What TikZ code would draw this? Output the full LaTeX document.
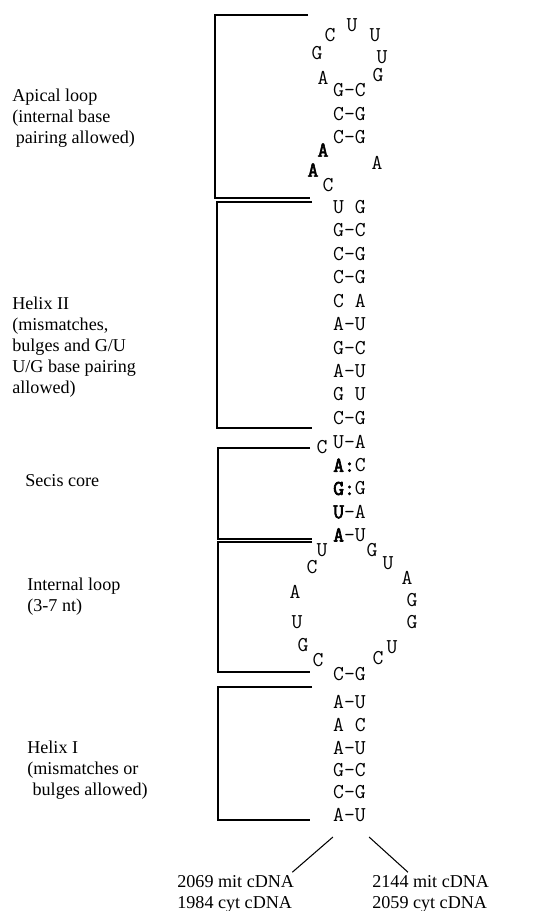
\documentclass[tikz,border=0pt]{standalone}
\usepackage{fontspec}
\setmainfont{Liberation Serif}
\newfontfamily\ntbf{Latin Modern Mono}[FakeBold=3]
\usepackage{tikz}
\usetikzlibrary{calc}
\tikzstyle{nt} = [font=\ttfamily\fontsize{12}{12}\selectfont, inner sep=0pt]
\tikzstyle{lbl} = [font=\fontsize{10.3}{11.9}\selectfont, align=left, anchor=west, inner sep=0pt]
\tikzstyle{segline} = [black, line width=0.6pt]

\begin{document}
\begin{tikzpicture}[scale=0.2]
        \useasboundingbox (0,0) rectangle (54.3,-91.1);
        % apical loop
        \node[nt] (a1) at (35.2,-2.5) {U};
        \node[nt] (a2) at (33.0,-3.5) {C};
        \node[nt] (a3) at (37.5,-3.5) {U};
        \node[nt] (a4) at (31.7,-5.3) {G};
        \node[nt] (a5) at (38.2,-5.7) {U};
        \node[nt] (a6) at (32.3,-7.8) {A};
        \node[nt] (a7) at (37.8,-7.5) {G};
        \node[nt] (ap1) at (34.95,-9.0) {G-C};
        \node[nt] (ap2) at (34.95,-11.4) {C-G};
        \node[nt] (ap3) at (34.95,-13.7) {C-G};
        \node[nt] (a8) at (32.3,-15.0) {\ntbf A};
        \node[nt] (a9) at (37.7,-16.3) {A};
        \node[nt] (a10) at (31.3,-17.0) {\ntbf A};
        \node[nt] (a11) at (32.8,-18.5) {C};
        % helix II
        \node[nt] (hII1) at (34.95,-20.7) {U G};
        \node[nt] (hII2) at (34.95,-23.04) {G-C};
        \node[nt] (hII3) at (34.95,-25.39) {C-G};
        \node[nt] (hII4) at (34.95,-27.73) {C-G};
        \node[nt] (hII5) at (34.95,-30.08) {C A};
        \node[nt] (hII6) at (34.95,-32.42) {A-U};
        \node[nt] (hII7) at (34.95,-34.76) {G-C};
        \node[nt] (hII8) at (34.95,-37.11) {A-U};
        \node[nt] (hII9) at (34.95,-39.45) {G U};
        \node[nt] (hII10) at (34.95,-41.8) {C-G};
        % secis core
        \node[nt] (sc0) at (32.2,-44.7) {C};
        \node[nt] (sc1) at (34.95,-44.2) {U-A};
        \node[nt] (sc2) at (34.95,-46.53) {{\ntbf A:}C};
        \node[nt] (sc3) at (34.95,-48.85) {{\ntbf G:}G};
        \node[nt] (sc4) at (34.95,-51.18) {{\ntbf U}-A};
        \node[nt] (sc5) at (34.95,-53.5) {{\ntbf A}-U};
        % internal loop
        \node[nt] (il1) at (32.2,-55.0) {U};
        \node[nt] (il2) at (31.2,-56.7) {C};
        \node[nt] (il3) at (29.5,-59.2) {A};
        \node[nt] (il4) at (29.7,-62.2) {U};
        \node[nt] (il5) at (30.3,-64.5) {G};
        \node[nt] (il6) at (31.8,-66.0) {C};
        \node[nt] (il7) at (37.2,-55.0) {G};
        \node[nt] (il8) at (38.8,-56.3) {U};
        \node[nt] (il9) at (40.7,-57.8) {A};
        \node[nt] (il10) at (41.2,-60.0) {G};
        \node[nt] (il11) at (41.2,-62.2) {G};
        \node[nt] (il12) at (39.2,-64.7) {U};
        \node[nt] (il13) at (37.8,-65.8) {C};
        \node[nt] (il14) at (34.95,-67.4) {C-G};
        % helix I
        \node[nt] (hI1) at (34.95,-70.2) {A-U};
        \node[nt] (hI2) at (34.95,-72.5) {A C};
        \node[nt] (hI3) at (34.95,-74.8) {A-U};
        \node[nt] (hI4) at (34.95,-77.0) {G-C};
        \node[nt] (hI5) at (34.95,-79.2) {C-G};
        \node[nt] (hI6) at (34.95,-81.5) {A-U};
        % brackets
        \draw[segline] (30.8,-1.5) -- (21.5,-1.5) -- (21.5,-19.8) -- (31.0,-19.8);
        \draw[segline] (31.2,-20.2) -- (21.7,-20.2) -- (21.7,-42.8) -- (31.2,-42.8);
        \draw[segline] (31.0,-44.8) -- (21.8,-44.8) -- (21.8,-53.9) -- (31.2,-53.9);
        \draw[segline] (31.2,-54.2) -- (21.8,-54.2) -- (21.8,-67.2) -- (31.0,-67.2);
        \draw[segline] (31.2,-68.7) -- (21.8,-68.7) -- (21.8,-82.0) -- (31.0,-82.0);
        % region labels
        \node[lbl] (apical) at (1.2,-11.8) {Apical loop\\(internal base\\\hspace*{2pt}pairing allowed)};
        \node[lbl] (helixtwo) at (1.2,-34.7) {Helix II\\(mismatches,\\bulges and G/U\\U/G base pairing\\allowed)};
        \node[lbl] (secis) at (2.5,-48.1) {Secis core};
        \node[lbl] (intloop) at (2.7,-59.7) {Internal loop\\(3-7 nt)};
        \node[lbl] (helixone) at (2.7,-77.0) {Helix I\\(mismatches or\\\hspace*{3pt}bulges allowed)};
        % cDNA positions
        \node[lbl] (cdnaL) at (17.7,-89.4) {2069 mit cDNA\\1984 cyt cDNA};
        \node[lbl] (cdnaR) at (37.2,-89.4) {2144 mit cDNA\\2059 cyt cDNA};
        \draw[segline] ($(hI6.south west)+(0,-1.5)$) -- ($(cdnaL.north east)+(-0.2,0.3)$);
        \draw[segline] ($(hI6.south east)+(0.3,-1.5)$) -- ($(cdnaR.north west)+(3.6,0.3)$);
\end{tikzpicture}
\end{document}
